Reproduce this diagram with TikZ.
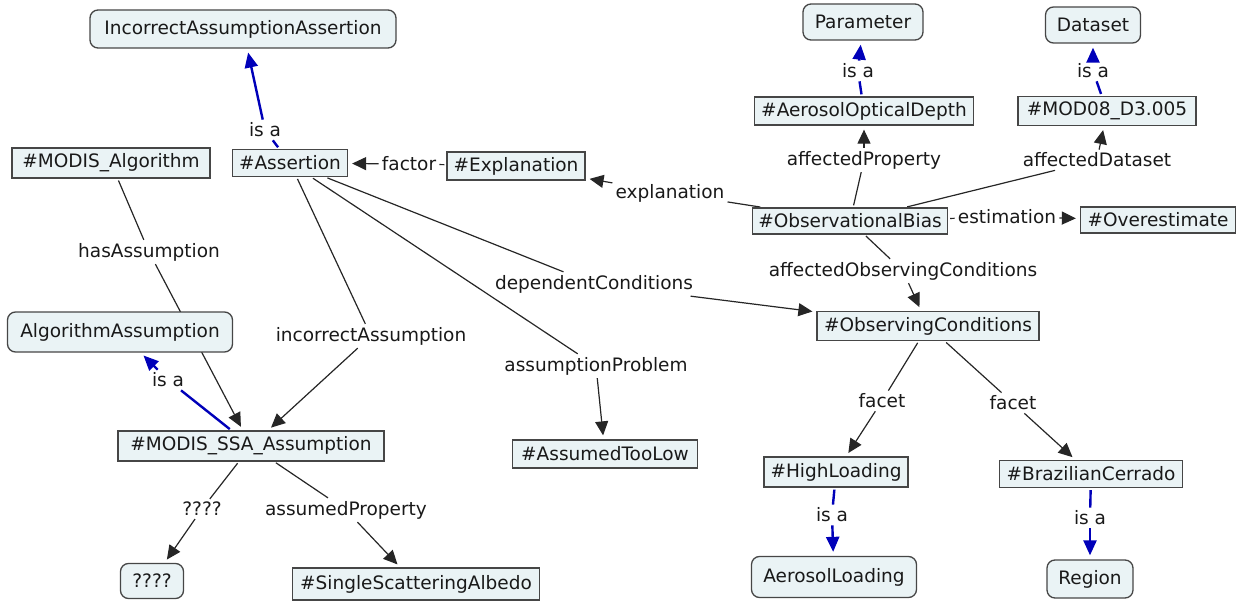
\documentclass[tikz,border=0pt]{standalone}
\usepackage{fontspec}
\setmainfont{DejaVu Sans}
\usetikzlibrary{arrows.meta}
\pgfdeclarelayer{bg}
\pgfsetlayers{bg,main}
\definecolor{boxfill}{RGB}{234,243,245}
\definecolor{boxline}{RGB}{70,70,70}
\definecolor{isablue}{RGB}{0,0,185}
\definecolor{txt}{RGB}{25,25,25}
\begin{document}
\begin{tikzpicture}[x=1pt,y=-1pt,
 font=\fontsize{18.5}{22}\selectfont,
 every node/.style={text=txt},
 concept/.style={draw=boxline, fill=boxfill, rounded corners=8pt, line width=1.3pt, inner sep=0pt},
 inst/.style={draw=boxline, fill=boxfill, line width=1.3pt, inner sep=0pt},
 lbl/.style={inner sep=3pt},
 rel/.style={line width=1.2pt, draw=black!85, shorten <=2pt},
 relarr/.style={line width=1.2pt, draw=black!85, shorten >=4pt, -{Triangle[length=14pt,width=13pt]}},
 isa/.style={line width=2.4pt, draw=isablue, shorten <=2pt},
 isaarr/.style={line width=2.4pt, draw=isablue, shorten >=4pt, -{Triangle[length=15pt,width=13pt]}}
]
\useasboundingbox (0,0) rectangle (1245,604);
% concept / instance nodes
\node[concept, minimum width=306pt, minimum height=38pt] (iaa) at (243,29) {IncorrectAssumptionAssertion};
\node[inst, minimum width=198pt, minimum height=30pt] (malg) at (111,163) {\#MODIS\_Algorithm};
\node[inst, minimum width=115pt, minimum height=27pt] (asr) at (290,163) {\#Assertion};
\node[inst, minimum width=138pt, minimum height=28pt] (expl) at (516,166) {\#Explanation};
\node[concept, minimum width=120pt, minimum height=36pt] (param) at (863,22) {Parameter};
\node[concept, minimum width=95pt, minimum height=36pt] (dataset) at (1093,25) {Dataset};
\node[inst, minimum width=219pt, minimum height=28pt] (aod) at (864,111) {\#AerosolOpticalDepth};
\node[inst, minimum width=178pt, minimum height=29pt] (mod08) at (1107,111) {\#MOD08\_D3.005};
\node[inst, minimum width=195pt, minimum height=26pt] (obias) at (850,221) {\#ObservationalBias};
\node[inst, minimum width=155pt, minimum height=26pt] (overest) at (1158,220) {\#Overestimate};
\node[inst, minimum width=222pt, minimum height=29pt] (obsc) at (928,326) {\#ObservingConditions};
\node[concept, minimum width=225pt, minimum height=40pt] (algass) at (120,332) {AlgorithmAssumption};
\node[inst, minimum width=266pt, minimum height=30pt] (ssa) at (251,446) {\#MODIS\_SSA\_Assumption};
\node[inst, minimum width=185pt, minimum height=28pt] (low) at (605,454) {\#AssumedTooLow};
\node[inst, minimum width=144pt, minimum height=30pt] (high) at (836,472) {\#HighLoading};
\node[inst, minimum width=183pt, minimum height=27pt] (braz) at (1091,474) {\#BrazilianCerrado};
\node[concept, minimum width=63pt, minimum height=35pt] (q) at (152,581) {????};
\node[inst, minimum width=247pt, minimum height=32pt] (ssalb) at (416,584) {\#SingleScatteringAlbedo};
\node[concept, minimum width=165pt, minimum height=41pt] (aeroload) at (834,577) {AerosolLoading};
\node[concept, minimum width=86pt, minimum height=38pt] (region) at (1090,579) {Region};
% link labels
\node[lbl] (l1) at (265,130) {is a};
\node[lbl] (l2) at (409,164) {factor};
\node[lbl] (l3) at (149,252) {hasAssumption};
\node[lbl] (l4) at (670,193) {explanation};
\node[lbl] (l5) at (864,160) {affectedProperty};
\node[lbl] (l6) at (1097,160) {affectedDataset};
\node[lbl] (l7) at (858,71) {is a};
\node[lbl] (l8) at (1093,71) {is a};
\node[lbl] (l9) at (1007,217) {estimation};
\node[lbl] (l10) at (903,271) {affectedObservingConditions};
\node[lbl] (l11) at (594,284) {dependentConditions};
\node[lbl] (l12) at (371,336) {incorrectAssumption};
\node[lbl] (l13) at (596,366) {assumptionProblem};
\node[lbl] (l14) at (168,380) {is a};
\node[lbl] (l15) at (882,401) {facet};
\node[lbl] (l16) at (1013,403) {facet};
\node[lbl] (l17) at (202,509) {????};
\node[lbl] (l18) at (346,510) {assumedProperty};
\node[lbl] (l19) at (832,515) {is a};
\node[lbl] (l20) at (1090,518) {is a};
% connectors
\begin{pgfonlayer}{bg}
\draw[isa] (asr) -- (l1); \draw[isaarr] (l1) -- (iaa);
\draw[rel] (expl) -- (l2); \draw[relarr] (l2) -- (asr);
\draw[rel] (malg) -- (l3); \draw[relarr] (l3) -- (ssa);
\draw[rel] (obias) -- (l4); \draw[relarr] (l4) -- (expl);
\draw[rel] (obias) -- (l5); \draw[relarr] (l5) -- (aod);
\draw[rel] (obias) -- (l6); \draw[relarr] (l6) -- (mod08);
\draw[isa] (aod) -- (l7); \draw[isaarr] (l7) -- (param);
\draw[isa] (mod08) -- (l8); \draw[isaarr] (l8) -- (dataset);
\draw[rel] (obias) -- (l9); \draw[relarr] (l9) -- (overest);
\draw[rel] (obias) -- (l10); \draw[relarr] (l10) -- (obsc);
\draw[rel] (asr) -- (l11); \draw[relarr] (l11) -- (obsc);
\draw[rel] (asr) -- (l12); \draw[relarr] (l12) -- (ssa);
\draw[rel] (asr) -- (l13); \draw[relarr] (l13) -- (low);
\draw[isa] (ssa) -- (l14); \draw[isaarr] (l14) -- (algass);
\draw[rel] (obsc) -- (l15); \draw[relarr] (l15) -- (high);
\draw[rel] (obsc) -- (l16); \draw[relarr] (l16) -- (braz);
\draw[rel] (ssa) -- (l17); \draw[relarr] (l17) -- (q);
\draw[rel] (ssa) -- (l18); \draw[relarr] (l18) -- (ssalb);
\draw[isa] (high) -- (l19); \draw[isaarr] (l19) -- (aeroload);
\draw[isa] (braz) -- (l20); \draw[isaarr] (l20) -- (region);
\end{pgfonlayer}
\end{tikzpicture}
\end{document}
